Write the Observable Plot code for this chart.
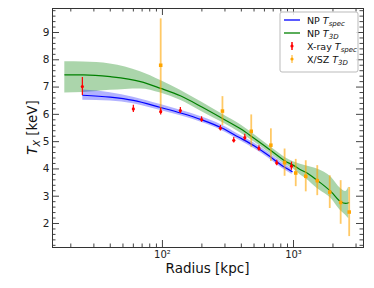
<!DOCTYPE html>
<html>
<head>
<meta charset="utf-8">
<script src="https://cdn.jsdelivr.net/npm/d3@7"></script>
<script src="https://cdn.jsdelivr.net/npm/@observablehq/plot@0.6"></script>
<style>
  body { margin: 0; background: white; }
  #chart { position: relative; width: 374px; height: 288px; }
</style>
</head>
<body>
<div id="chart"></div>
<script>
// Model curve NP T3D (green)
const greenR  = [18, 25, 40, 68, 97, 137, 200, 287, 400, 476, 600, 750, 855, 1000, 1130, 1240, 1518, 1950, 2290, 2500, 2640];
const greenT  = [7.45, 7.45, 7.38, 7.2, 6.95, 6.68, 6.27, 5.85, 5.45, 5.2, 4.85, 4.5, 4.3, 4.13, 3.97, 3.88, 3.58, 3.15, 2.8, 2.74, 2.76];
const greenLo = [6.78, 6.8, 6.88, 6.93, 6.78, 6.52, 6.1, 5.7, 5.3, 5.06, 4.72, 4.37, 4.17, 4.0, 3.78, 3.65, 3.28, 2.9, 2.47, 2.3, 2.17];
const greenHi = [7.93, 7.92, 7.85, 7.56, 7.24, 6.88, 6.44, 6.0, 5.6, 5.34, 4.98, 4.63, 4.43, 4.26, 4.17, 4.12, 4.0, 3.69, 3.28, 3.17, 3.34];

// Model curve NP Tspec (blue)
const blueR  = [24.7, 40, 60, 97, 140, 200, 285, 380, 500, 650, 800, 977];
const blueT  = [6.70, 6.63, 6.51, 6.25, 6.04, 5.80, 5.50, 5.17, 4.85, 4.48, 4.15, 3.90];
const blueLo = [6.52, 6.49, 6.39, 6.14, 5.94, 5.70, 5.40, 5.07, 4.75, 4.38, 4.05, 3.80];
const blueHi = [6.89, 6.79, 6.63, 6.36, 6.14, 5.90, 5.60, 5.27, 4.95, 4.58, 4.25, 4.00];

// X-ray Tspec (red)
const redR = [24.5, 60, 97, 137, 199, 277, 350, 425, 545, 745, 965];
const redT = [7.02, 6.2, 6.1, 6.14, 5.81, 5.49, 5.05, 5.15, 4.75, 4.22, 4.1];
const redE = [0.33, 0.13, 0.12, 0.11, 0.1, 0.1, 0.1, 0.12, 0.1, 0.1, 0.15];

// X/SZ T3D (orange)
const orR = [97, 287, 476, 672, 855, 1040, 1240, 1518, 1890, 2290, 2660];
const orT = [7.8, 6.12, 5.38, 4.87, 4.23, 3.85, 3.73, 3.57, 3.15, 2.77, 2.42];
const orE = [1.7, 0.53, 0.6, 0.6, 0.5, 0.5, 0.57, 0.55, 0.6, 0.8, 0.9];

// Axis ticks
const xMajor = [100, 1000];
const xMinor = [20, 30, 40, 50, 60, 70, 80, 90, 200, 300, 400, 500, 600, 700, 800, 900, 2000, 3000];
const yMajor = [2, 3, 4, 5, 6, 7, 8, 9];
const yMinor = d3.range(12, 99, 2).filter(v => v % 10 !== 0).map(v => v / 10);

const green = greenR.map((r, i) => ({r, t: greenT[i], lo: greenLo[i], hi: greenHi[i]}));
const blue = blueR.map((r, i) => ({r, t: blueT[i], lo: blueLo[i], hi: blueHi[i]}));
const red = redR.map((r, i) => ({r, t: redT[i], e: redE[i]}));
const orange = orR.map((r, i) => ({r, t: orT[i], e: orE[i]}));

const W = 374, H = 288, mL = 52, mR = 11, mT = 8, mB = 41;
const iw = W - mL - mR, ih = H - mT - mB;
const majL = 7, minL = 3.5;
const tickColor = "#444";

const plot = Plot.plot({
  width: W, height: H,
  marginLeft: mL, marginRight: mR, marginTop: mT, marginBottom: mB,
  x: {type: "log", domain: [14.5, 3420]},
  y: {domain: [1.12, 9.88]},
  style: {fontFamily: "'DejaVu Sans', sans-serif", fontSize: "10px", color: "#222", background: "white"},
  marks: [
    Plot.areaY(green, {x: "r", y1: "lo", y2: "hi", fill: "green", fillOpacity: 0.33, curve: "monotone-x"}),
    Plot.areaY(blue, {x: "r", y1: "lo", y2: "hi", fill: "blue", fillOpacity: 0.3, curve: "monotone-x"}),
    Plot.line(green, {x: "r", y: "t", stroke: "green", strokeWidth: 1.2, curve: "monotone-x"}),
    Plot.line(blue, {x: "r", y: "t", stroke: "blue", strokeWidth: 1.2, curve: "monotone-x"}),
    Plot.ruleX(orange, {x: "r", y1: d => d.t - d.e, y2: d => d.t + d.e, stroke: "orange", strokeOpacity: 0.6, strokeWidth: 1.8}),
    Plot.dot(orange, {x: "r", y: "t", fill: "orange", r: 2, symbol: "square"}),
    Plot.ruleX(red, {x: "r", y1: d => d.t - d.e, y2: d => d.t + d.e, stroke: "red", strokeWidth: 1.2}),
    Plot.dot(red, {x: "r", y: "t", fill: "red", r: 1.6}),
    // inward ticks
    Plot.ruleX(xMajor, {x: d => d, insetTop: ih - majL, stroke: tickColor}),
    Plot.ruleX(xMajor, {x: d => d, insetBottom: ih - majL, stroke: tickColor}),
    Plot.ruleX(xMinor, {x: d => d, insetTop: ih - minL, stroke: tickColor}),
    Plot.ruleX(xMinor, {x: d => d, insetBottom: ih - minL, stroke: tickColor}),
    Plot.ruleY(yMajor, {y: d => d, insetRight: iw - majL, stroke: tickColor}),
    Plot.ruleY(yMajor, {y: d => d, insetLeft: iw - majL, stroke: tickColor}),
    Plot.ruleY(yMinor, {y: d => d, insetRight: iw - minL, stroke: tickColor}),
    Plot.ruleY(yMinor, {y: d => d, insetLeft: iw - minL, stroke: tickColor}),
    Plot.axisX({ticks: xMajor, tickSize: 0, tickPadding: 3, tickFormat: d => d === 100 ? "10²" : "10³", label: null, fontSize: 10}),
    Plot.axisY({ticks: yMajor, tickSize: 0, tickPadding: 3, label: null, fontSize: 10.5}),
    Plot.frame({stroke: "#333"})
  ]
});

document.getElementById("chart").appendChild(plot);
const svg = d3.select(plot);

// Axis titles
svg.append("text")
  .attr("x", mL + iw / 2).attr("y", 273)
  .attr("text-anchor", "middle")
  .attr("font-size", 13.5).attr("fill", "#111")
  .text("Radius [kpc]");

const yl = svg.append("text")
  .attr("transform", `translate(37,${mT + ih / 2}) rotate(-90)`)
  .attr("text-anchor", "middle")
  .attr("font-size", 13.5).attr("fill", "#111");
yl.append("tspan").attr("font-style", "italic").text("T");
yl.append("tspan").attr("font-style", "italic").attr("font-size", 9.5).attr("dy", 3).text("X");
yl.append("tspan").attr("dy", -3).text(" [keV]");

// Legend
const lg = svg.append("g").attr("font-size", 9.5).attr("fill", "#111").attr("text-anchor", "start");
lg.append("rect").attr("x", 280).attr("y", 12).attr("width", 78).attr("height", 60)
  .attr("rx", 2).attr("fill", "white").attr("fill-opacity", 0.85).attr("stroke", "#bbb");
const entries = [
  {kind: "line", color: "blue", main: "NP ", sub: "spec"},
  {kind: "line", color: "green", main: "NP ", sub: "3D"},
  {kind: "err", color: "red", main: "X-ray ", sub: "spec"},
  {kind: "err", color: "orange", main: "X/SZ ", sub: "3D"}
];
entries.forEach((e, i) => {
  const y = 20 + i * 13;
  if (e.kind === "line") {
    lg.append("line").attr("x1", 284).attr("x2", 300).attr("y1", y).attr("y2", y)
      .attr("stroke", e.color).attr("stroke-width", 1.3);
  } else {
    lg.append("line").attr("x1", 292).attr("x2", 292).attr("y1", y - 4).attr("y2", y + 4)
      .attr("stroke", e.color).attr("stroke-opacity", e.color === "orange" ? 0.6 : 1).attr("stroke-width", 1.5);
    lg.append("circle").attr("cx", 292).attr("cy", y).attr("r", 1.6).attr("fill", e.color);
  }
  const t = lg.append("text").attr("x", 307).attr("y", y + 3.5);
  t.append("tspan").text(e.main);
  t.append("tspan").attr("font-style", "italic").text("T");
  t.append("tspan").attr("font-style", "italic").attr("font-size", 7).attr("dy", 2).text(e.sub);
});
</script>
</body>
</html>
